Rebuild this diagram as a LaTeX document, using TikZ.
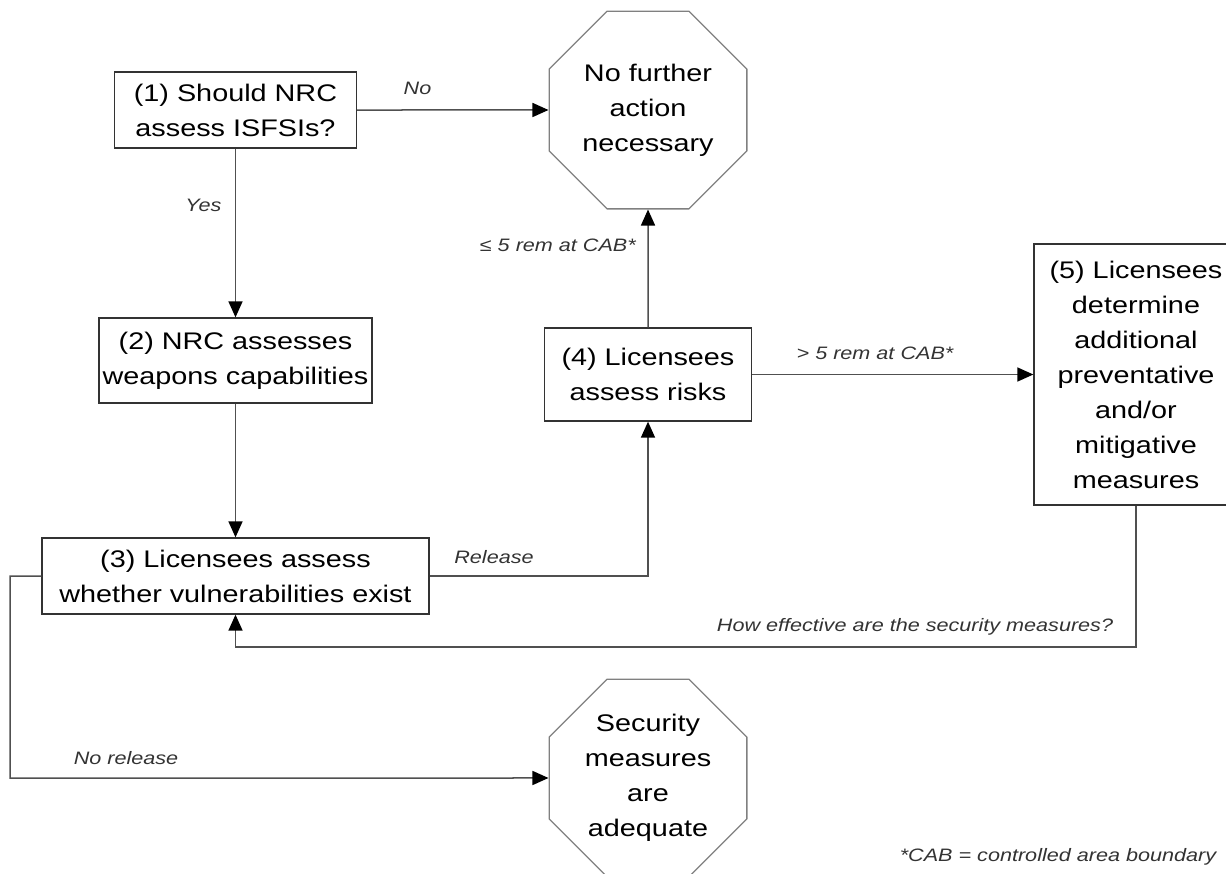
\documentclass[tikz,border=0pt]{standalone}
\usepackage{fontspec}
\setmainfont{Liberation Sans}[FakeStretch=1.2]
\usetikzlibrary{arrows.meta,shapes.geometric}
\definecolor{linec}{HTML}{505050}
\definecolor{boxc}{HTML}{333333}
\definecolor{octc}{HTML}{808080}
\definecolor{labc}{HTML}{333333}
\begin{document}
\begin{tikzpicture}[x=1pt,y=-1pt,
  box/.style={draw=boxc, line width=1.3pt, align=center, inner sep=0pt, font=\fontsize{24}{35}\selectfont},
  oct/.style={draw=octc, line width=1.3pt, regular polygon, regular polygon sides=8, minimum size=214pt, inner sep=0pt, align=center, font=\fontsize{24}{35}\selectfont},
  conn/.style={draw=linec, line width=1.5pt, -{Triangle[length=16pt,width=14pt,color=black]}},
  lbl/.style={font=\fontsize{18}{22}\selectfont\itshape, text=labc, inner sep=0pt}]
\useasboundingbox (0,0) rectangle (1226,873);
\clip (0,0) rectangle (1226,873);
\node[box, minimum width=242pt, minimum height=76pt] (b1) at (235.5,110) {(1) Should NRC\\assess ISFSIs?};
\node[box, minimum width=273pt, minimum height=85pt] (b2) at (235.5,360.5) {(2) NRC assesses\\weapons capabilities};
\node[box, minimum width=387pt, minimum height=76pt] (b3) at (235.5,576) {(3) Licensees assess\\whether vulnerabilities exist};
\node[box, minimum width=207pt, minimum height=93pt] (b4) at (648,374.5) {(4) Licensees\\assess risks};
\node[box, minimum width=204pt, minimum height=261pt] (b5) at (1136,374.5) {(5) Licensees\\determine\\additional\\preventative\\and/or\\mitigative\\measures};
\node[oct] (o1) at (648,110) {No further\\action\\necessary};
\node[oct] (o2) at (648,778) {Security\\measures\\are\\adequate};
\coordinate (fbr) at (1136,647);
\coordinate (nr) at (10,778);
\draw[conn] (b1) -- (o1);
\draw[conn] (b1) -- (b2);
\draw[conn] (b2) -- (b3);
\draw[conn] (b3.east) -| (b4.south);
\draw[conn] (b4) -- (o1);
\draw[conn] (b4) -- (b5);
\draw[conn] (b5.south) -- (fbr) -| (b3.south);
\draw[conn] (b3.west) -| (nr) -- (o2);
\node[lbl] (lno) at (417.5,88) {No};
\node[lbl] (lyes) at (203.5,205) {Yes};
\node[lbl, anchor=east] (lle) at (636,245) {≤ 5 rem at CAB*};
\node[lbl] (lrel) at (494,557) {Release};
\node[lbl] (lgt) at (875,353) {> 5 rem at CAB*};
\node[lbl] (lhow) at (915,627) {How effective are the security measures?};
\node[lbl] (lnr) at (126,758) {No release};
\node[lbl] (lcab) at (1058,857) {*CAB = controlled area boundary};
\end{tikzpicture}
\end{document}
